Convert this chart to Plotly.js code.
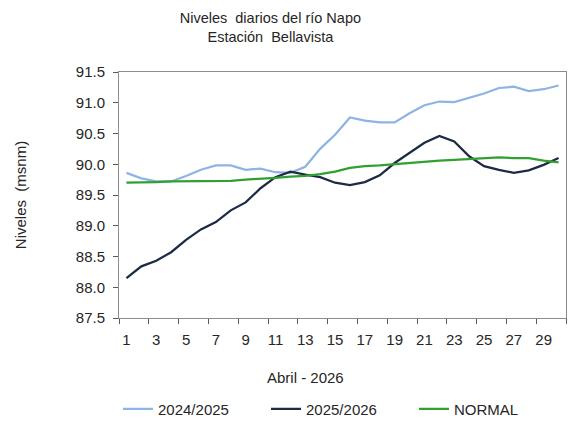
<!DOCTYPE html>
<html>
<head>
<meta charset="utf-8">
<script src="https://cdn.plot.ly/plotly-3.0.1.min.js"></script>
<style>html,body{margin:0;padding:0;background:#fff;}#chart{width:568px;height:421px;}</style>
</head>
<body>
<div id="chart"></div>
<script>
const days = [1,2,3,4,5,6,7,8,9,10,11,12,13,14,15,16,17,18,19,20,21,22,23,24,25,26,27,28,29,30];
const serie2024 = [89.86,89.77,89.72,89.72,89.81,89.91,89.98,89.98,89.91,89.93,89.87,89.86,89.96,90.25,90.48,90.76,90.71,90.68,90.68,90.83,90.96,91.02,91.01,91.08,91.15,91.24,91.26,91.19,91.22,91.28];
const serie2025 = [88.15,88.34,88.43,88.57,88.77,88.94,89.06,89.25,89.38,89.61,89.79,89.88,89.83,89.79,89.70,89.66,89.71,89.82,90.02,90.19,90.35,90.46,90.37,90.13,89.97,89.91,89.86,89.90,89.99,90.10];
const normal = [89.70,89.70,89.71,89.72,89.72,89.72,89.72,89.73,89.75,89.76,89.78,89.80,89.81,89.84,89.88,89.94,89.97,89.98,90.00,90.03,90.05,90.06,90.07,90.08,90.10,90.11,90.10,90.10,90.06,90.03];
const names = ["2024/2025","2025/2026","NORMAL"];
const labelDays = [1,3,5,7,9,11,13,15,17,19,21,23,25,27,29];
const tickBounds = [0.5,2.5,4.5,6.5,8.5,10.5,12.5,14.5,16.5,18.5,20.5,22.5,24.5,26.5,28.5,30.5];
const yTicks = [87.5,88.0,88.5,89.0,89.5,90.0,90.5,91.0,91.5];

const FAM = '"Liberation Sans", Arial, sans-serif';
const TXT = '#262626';
const font = {family: FAM, size: 15, color: TXT};

const traces = [
  {x: days, y: serie2024, name: names[0], type: 'scatter', mode: 'lines', line: {color: '#8EB4E3', width: 2.25}},
  {x: days, y: serie2025, name: names[1], type: 'scatter', mode: 'lines', line: {color: '#1C2B44', width: 2.25}},
  {x: days, y: normal, name: names[2], type: 'scatter', mode: 'lines', line: {color: '#31A031', width: 2.25}}
];

const layout = {
  width: 568, height: 421,
  paper_bgcolor: '#fff', plot_bgcolor: '#fff',
  font: font,
  margin: {l: 119, r: 2, t: 72, b: 103},
  title: {text: 'Niveles  diarios del río Napo<br>Estación  Bellavista', xref: 'container', x: 0.476, xanchor: 'center', yref: 'container', y: 1 - 23 / 421, yanchor: 'middle', font: {family: FAM, size: 14.5, color: TXT}},
  xaxis: {
    range: [0.5, 30.5], showgrid: false, zeroline: false,
    tickmode: 'array', tickvals: labelDays, ticktext: labelDays.map(String), ticks: '',
    ticklabelstandoff: 8,
    showline: true, linecolor: '#8c8c8c', linewidth: 1, mirror: true,
    minor: {tickmode: 'array', tickvals: tickBounds, ticks: 'outside', ticklen: 5, tickcolor: '#595959', tickwidth: 1, showgrid: false},
    tickfont: {family: FAM, size: 15, color: TXT}
  },
  yaxis: {
    range: [87.5, 91.5], showgrid: false, zeroline: false,
    tickmode: 'array', tickvals: yTicks, ticktext: yTicks.map(v => v.toFixed(1)),
    ticks: 'outside', ticklen: 5, tickcolor: '#595959', tickwidth: 1,
    ticklabelstandoff: 5,
    showline: true, linecolor: '#8c8c8c', linewidth: 1, mirror: true,
    title: {text: 'Niveles  (msnm)', standoff: 45, font: {family: FAM, size: 15, color: TXT}},
    tickfont: {family: FAM, size: 15, color: TXT}
  },
  annotations: [
    {text: 'Abril - 2026', xref: 'paper', yref: 'paper', x: (305 - 119) / 447, y: -(377 - 318) / 246, xanchor: 'center', yanchor: 'middle', showarrow: false, font: {family: FAM, size: 15, color: TXT}}
  ],
  showlegend: true,
  legend: {orientation: 'h', xref: 'container', x: 118 / 568, xanchor: 'left', yref: 'container', y: 1 - 409 / 421, yanchor: 'middle', entrywidth: 103, entrywidthmode: 'pixels', font: {family: FAM, size: 15, color: TXT}, bgcolor: 'rgba(0,0,0,0)'}
};

Plotly.newPlot('chart', traces, layout, {displayModeBar: false, staticPlot: true});
</script>
</body>
</html>
